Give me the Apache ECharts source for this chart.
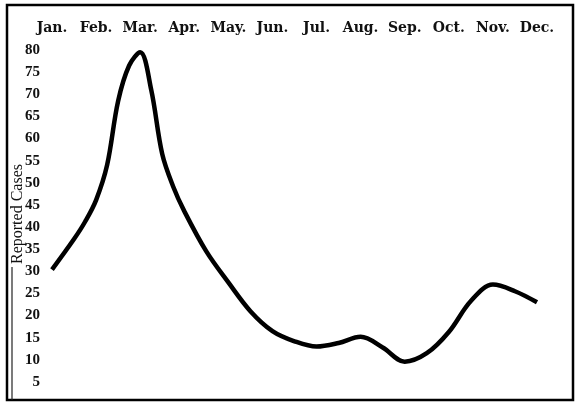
<!DOCTYPE html>
<html lang="en">
<head>
    <meta charset="UTF-8"/>
    <script src="https://cdn.jsdelivr.net/npm/echarts@6/dist/echarts.min.js"></script>
    <style>
        html, body { margin: 0; padding: 0; background: #fff; }
    </style>
</head>
<body>
<div id="main" style="width: 575px;height:403px;"></div>
<script type="text/javascript">
    // month labels along the top
    var months = ['Jan.', 'Feb.', 'Mar.', 'Apr.', 'May.', 'Jun.', 'Jul.', 'Aug.', 'Sep.', 'Oct.', 'Nov.', 'Dec.'];
    // positions along the year (0 = Jan)
    var monthPos = [0, 0.5, 0.75, 1, 1.25, 1.5, 1.75, 2, 2.25, 2.5, 2.75, 3, 3.5, 4, 4.5, 5, 5.5, 6, 6.5, 7, 7.5, 8, 8.5, 9, 9.5, 10, 10.5, 11];
    // reported cases at those positions
    var cases = [30.4, 37.3, 41.2, 46.1, 54, 68.5, 76.5, 79.5, 71, 56.5, 49.1, 43.6, 34.5, 27.5, 21, 16.5, 14.2, 13, 13.8, 15.2, 12.8, 9.6, 11.5, 16.3, 23.3, 27, 25.5, 23];
    // y tick labels
    var yTicks = [5, 10, 15, 20, 25, 30, 35, 40, 45, 50, 55, 60, 65, 70, 75, 80];
    var yTitle = 'Reported Cases';

    var myChart = echarts.init(document.getElementById('main'));

    var points = [];
    for (var i = 0; i < monthPos.length; i++) {
        points.push([monthPos[i], cases[i]]);
    }

    var options = {
        animation: false,
        backgroundColor: '#fff',
        grid: { left: 52, right: 38, top: 50, bottom: 21, containLabel: false, outerBoundsMode: 'none' },
        xAxis: {
            type: 'value',
            position: 'top',
            min: 0,
            max: 11,
            interval: 1,
            axisLine: { show: false },
            axisTick: { show: false },
            splitLine: { show: false },
            axisLabel: {
                margin: 15,
                color: '#111',
                fontFamily: 'DejaVu Serif',
                fontWeight: 'bold',
                fontSize: 14,
                formatter: function (v) { return months[Math.round(v)]; }
            }
        },
        yAxis: {
            type: 'value',
            min: yTicks[0],
            max: yTicks[yTicks.length - 1],
            interval: 5,
            axisLine: { show: false },
            axisTick: { show: false },
            splitLine: { show: false },
            axisLabel: {
                margin: 12,
                color: '#111',
                fontFamily: 'Liberation Serif',
                fontWeight: 'bold',
                fontSize: 15
            }
        },
        graphic: [
            {
                type: 'rect',
                shape: { x: 7, y: 5, width: 566, height: 395 },
                style: { fill: null, stroke: '#000', lineWidth: 2.5 },
                silent: true
            },
            {
                type: 'line',
                shape: { x1: 12, y1: 267, x2: 12, y2: 400 },
                style: { stroke: '#222', lineWidth: 1.2 },
                silent: true
            },
            {
                // rotated axis title
                type: 'text',
                x: 18,
                y: 214,
                rotation: Math.PI / 2,
                style: {
                    text: yTitle,
                    fill: '#111',
                    font: '16px "Liberation Serif"',
                    textAlign: 'center',
                    textVerticalAlign: 'middle'
                },
                silent: true
            }
        ],
        series: [
            {
                name: yTitle,
                type: 'line',
                data: points,
                smooth: 0.35,
                showSymbol: false,
                lineStyle: { color: '#000', width: 4.5 }
            }
        ]
    };

    myChart.setOption(options);
</script>
</body>
</html>
